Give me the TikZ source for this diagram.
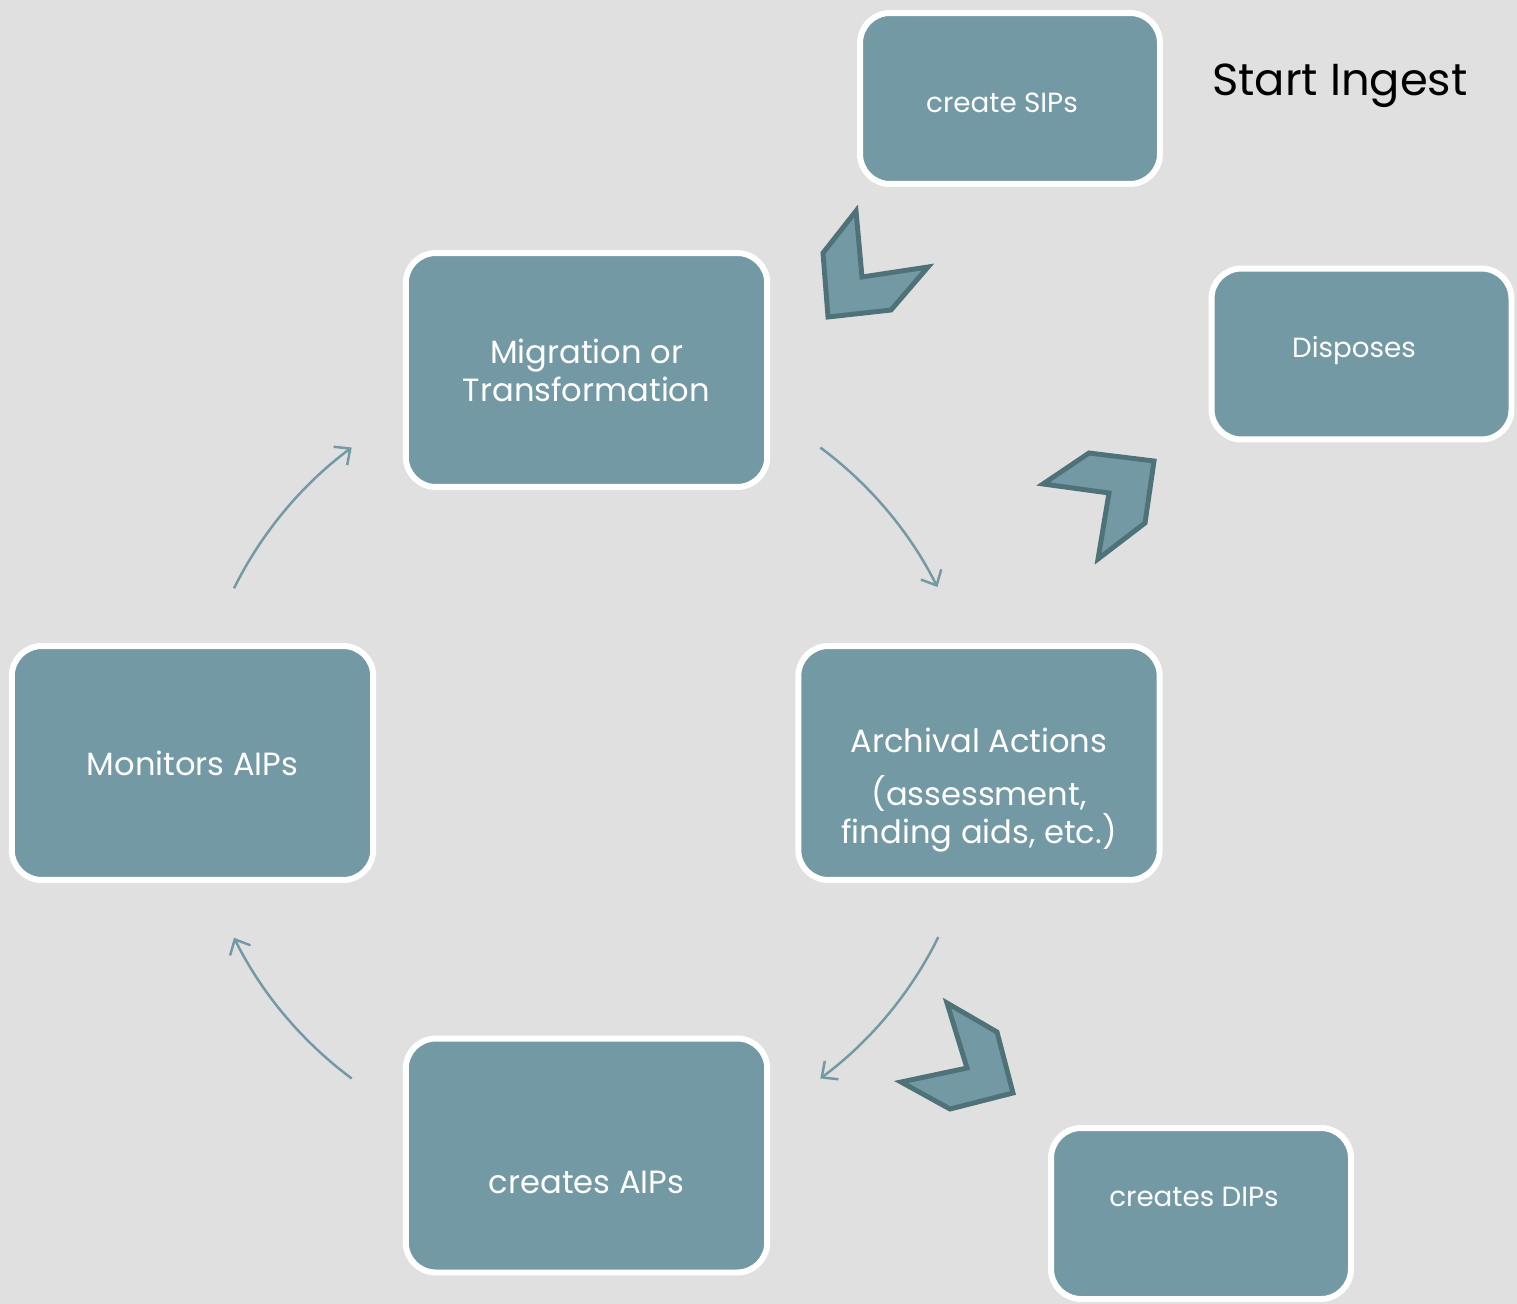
\documentclass[tikz,border=0pt]{standalone}
\usepackage{fontspec}
\setmainfont{Poppins}
\usetikzlibrary{arrows.meta}
\definecolor{boxteal}{HTML}{7399A5}
\definecolor{chevedge}{HTML}{4F7178}
\definecolor{slidegray}{HTML}{E0E0E0}

\begin{document}
\begin{tikzpicture}[x=0.02cm, y=0.02cm, >={Straight Barb[length=7pt,width=13pt]},
    stage/.style={draw=white, line width=3.4pt, fill=boxteal, rounded corners=0.6cm, text=white, align=center, inner sep=0pt},
    bigstage/.style={stage, minimum width=7.23cm, minimum height=4.68cm, font=\fontsize{18.3}{21.6}\selectfont},
    smallstage/.style={stage, minimum width=6cm, minimum height=3.42cm, font=\fontsize{15.8}{18}\selectfont},
    boxtext/.style={text=white, align=center, inner sep=0pt},
    flow/.style={draw=boxteal, line width=1.4pt},
    chev/.style={draw=chevedge, line width=2.8pt, fill=boxteal, line join=miter}]
            \fill[slidegray] (0,0) rectangle (1517,-1304);
            \useasboundingbox (0,0) rectangle (1517,-1304);

            % boxes of the cycle
            \node[bigstage] (mig) at (586.5,-370) {Migration or\\Transformation};
            \node[bigstage] (arch) at (979,-763) {};
            \node[bigstage] (aips) at (586.5,-1155.5) {};
            \node[bigstage] (mon) at (192.5,-763) {Monitors AIPs};
            \node[boxtext, font=\fontsize{18.3}{21.6}\selectfont] (archT) at ([yshift=-0.54cm]arch.center) {Archival Actions\\[9pt](assessment,\\finding aids, etc.)};
            \node[boxtext, font=\fontsize{18.3}{21.6}\selectfont] (aipsT) at ([yshift=-0.54cm]aips.center) {creates AIPs};

            % side boxes
            \node[smallstage] (sips) at (1010,-98.5) {};
            \node[boxtext, font=\fontsize{15.8}{18}\selectfont] (sipsT) at (1002,-103) {create SIPs};
            \node[smallstage] (disp) at (1361.5,-354) {};
            \node[boxtext, font=\fontsize{15.8}{18}\selectfont] (dispT) at (1354,-351) {Disposes};
            \node[smallstage] (dips) at (1201,-1213.5) {};
            \node[boxtext, font=\fontsize{15.8}{18}\selectfont] (dipsT) at (1194,-1197) {creates DIPs};

            \node[font=\fontsize{25.5}{30}\selectfont] (start) at (1340,-86) {Start Ingest};

            % arcs round the cycle
            \coordinate (hub) at (586,-763);
            \draw[flow, ->] ([shift={(53.4:393)}]hub) arc[start angle=53.4, end angle=26.6, radius=393];
            \draw[flow, ->] ([shift={(-26.3:393)}]hub) arc[start angle=-26.3, end angle=-53.4, radius=393];
            \draw[flow, ->] ([shift={(-126.6:393)}]hub) arc[start angle=-126.6, end angle=-153.6, radius=393];
            \draw[flow, ->] ([shift={(153.6:393)}]hub) arc[start angle=153.6, end angle=126.6, radius=393];

            % chevrons
            \draw[chev] (856,-211) -- (823,-253) -- (828,-317) -- (891,-310) -- (928,-267) -- (862,-277) -- cycle;
            \draw[chev] (1043,-484) -- (1089,-453) -- (1154,-461) -- (1145,-523) -- (1098,-559) -- (1109,-493) -- cycle;
            \draw[chev] (947,-1003) -- (997,-1032) -- (1013,-1093) -- (950,-1109) -- (901,-1082) -- (967,-1068) -- cycle;
        \end{tikzpicture}
\end{document}
